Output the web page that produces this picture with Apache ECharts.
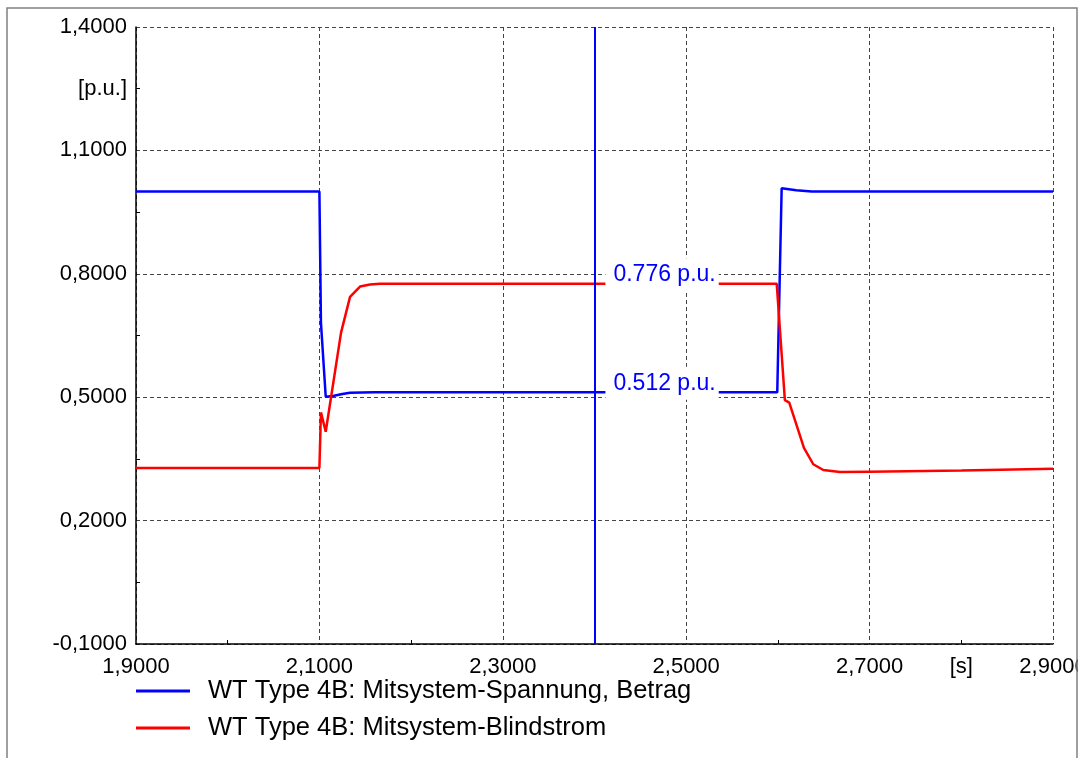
<!DOCTYPE html>
<html>
<head>
<meta charset="utf-8">
<script src="https://cdn.jsdelivr.net/npm/echarts@6/dist/echarts.min.js"></script>
<style>html,body{margin:0;padding:0;background:#fff;}#c{width:1078px;height:758px;}</style>
</head>
<body>
<div id="c"></div>
<script>
// ---- data ----
const seriesNames = ['WT Type 4B: Mitsystem-Spannung, Betrag', 'WT Type 4B: Mitsystem-Blindstrom'];
const voltageTime = [1.9, 2.1, 2.1017, 2.1069, 2.1148, 2.125, 2.1334, 2.16, 2.2, 2.5993, 2.6041, 2.62, 2.6369, 2.9];
const voltageValues = [1.0, 1.0, 0.68, 0.501, 0.503, 0.508, 0.511, 0.512, 0.512, 0.512, 1.008, 1.003, 1.0, 1.0];
const currentTime = [1.9, 2.1, 2.1017, 2.1069, 2.1236, 2.1334, 2.1443, 2.1552, 2.166, 2.2, 2.5987, 2.6076, 2.6124, 2.6284, 2.6386, 2.6495, 2.6677, 2.7, 2.8, 2.9];
const currentValues = [0.328, 0.328, 0.463, 0.416, 0.657, 0.744, 0.769, 0.774, 0.776, 0.776, 0.776, 0.493, 0.487, 0.377, 0.337, 0.323, 0.318, 0.319, 0.322, 0.326];
const cursorTime = 2.401;
const cursorVoltage = 0.512;
const cursorCurrent = 0.776;
const xMajorTicks = [1.9, 2.1, 2.3, 2.5, 2.7, 2.9];
const xMinorTicks = [2.0, 2.2, 2.4, 2.6, 2.8];
const xUnitTick = 2.8;
const xUnit = '[s]';
const yMajorTicks = [-0.1, 0.2, 0.5, 0.8, 1.1, 1.4];
const yMinorTicks = [0.05, 0.35, 0.65, 0.95, 1.25];
const yUnitTick = 1.25;
const yUnit = '[p.u.]';

const zip = (a, b) => a.map((t, i) => [t, b[i]]);
const fmt = v => Number(v).toFixed(4).replace('.', ',');
const FONT = 'Liberation Sans, Arial, sans-serif';
const GRID_LINE = {color: '#444', width: 1, type: [4, 3]};

const annLabel = {
  show: true, position: 'right', distance: 10, offset: [0, -9],
  color: '#0000ff', fontSize: 23, fontFamily: FONT, lineHeight: 23,
  backgroundColor: '#ffffff', padding: [6, 3, 4, 8],
  formatter: p => Number(p.value).toFixed(3) + ' p.u.'
};

const chart = echarts.init(document.getElementById('c'), null, {renderer: 'canvas'});
chart.setOption({
  animation: false,
  backgroundColor: '#ffffff',
  grid: {left: 136, right: 25, top: 27, bottom: 114, containLabel: false, outerBoundsMode: 'none'},
  legend: {
    orient: 'vertical', left: 136, top: 678, itemGap: 11, padding: 0,
    icon: 'rect', itemWidth: 54, itemHeight: 3,
    textStyle: {fontSize: 25.5, fontFamily: FONT, color: '#000', lineHeight: 25, padding: [0, 0, 0, 13]},
    selectedMode: false,
    data: seriesNames
  },
  xAxis: [{
    type: 'value', min: 1.9, max: 2.9, position: 'bottom',
    axisLine: {show: true, onZero: false, lineStyle: {color: '#000', width: 1.5}},
    axisTick: {show: false, customValues: xMajorTicks},
    axisLabel: {customValues: xMajorTicks, formatter: fmt, fontSize: 22, fontFamily: FONT, color: '#000', margin: 12},
    splitLine: {show: true, lineStyle: GRID_LINE}
  }, {
    type: 'value', min: 1.9, max: 2.9, position: 'bottom',
    axisLine: {show: false, onZero: false},
    axisTick: {show: true, inside: true, length: 4, customValues: xMinorTicks, lineStyle: {color: '#000', width: 1}},
    axisLabel: {customValues: [xUnitTick], formatter: () => xUnit, fontSize: 22, fontFamily: FONT, color: '#000', margin: 12},
    splitLine: {show: false}
  }],
  yAxis: [{
    type: 'value', min: -0.1, max: 1.4, position: 'left',
    axisLine: {show: true, onZero: false, lineStyle: {color: '#000', width: 1.5}},
    axisTick: {show: false, customValues: yMajorTicks},
    axisLabel: {customValues: yMajorTicks, formatter: fmt, fontSize: 22, fontFamily: FONT, color: '#000', margin: 9},
    splitLine: {show: true, lineStyle: GRID_LINE}
  }, {
    type: 'value', min: -0.1, max: 1.4, position: 'left',
    axisLine: {show: false, onZero: false},
    axisTick: {show: true, inside: true, length: 4, customValues: yMinorTicks, lineStyle: {color: '#000', width: 1}},
    axisLabel: {customValues: [yUnitTick], formatter: () => yUnit, fontSize: 22, fontFamily: FONT, color: '#000', margin: 9},
    splitLine: {show: false}
  }],
  series: [{
    name: seriesNames[0], type: 'line', xAxisIndex: 0, yAxisIndex: 0,
    data: zip(voltageTime, voltageValues), showSymbol: false, symbol: 'none',
    lineStyle: {color: '#0000ff', width: 2.5}, itemStyle: {color: '#0000ff'},
    emphasis: {disabled: true},
    markLine: {
      silent: true, symbol: ['none', 'none'], label: {show: false},
      lineStyle: {color: '#0000ff', width: 2, type: 'solid'},
      emphasis: {disabled: true},
      data: [{xAxis: cursorTime}]
    },
    markPoint: {
      silent: true, symbol: 'circle', symbolSize: 0,
      label: annLabel,
      data: [{coord: [cursorTime, cursorVoltage], value: cursorVoltage}]
    }
  }, {
    name: seriesNames[1], type: 'line', xAxisIndex: 0, yAxisIndex: 0,
    data: zip(currentTime, currentValues), showSymbol: false, symbol: 'none',
    lineStyle: {color: '#ff0000', width: 2.5}, itemStyle: {color: '#ff0000'},
    emphasis: {disabled: true},
    markPoint: {
      silent: true, symbol: 'circle', symbolSize: 0,
      label: annLabel,
      data: [{coord: [cursorTime, cursorCurrent], value: cursorCurrent}]
    }
  }],
  graphic: [{
    type: 'rect', z: 100, silent: true,
    shape: {x: 7, y: 8, width: 1070, height: 760},
    style: {fill: 'none', stroke: '#808080', lineWidth: 1.5}
  }]
});
</script>
</body>
</html>
